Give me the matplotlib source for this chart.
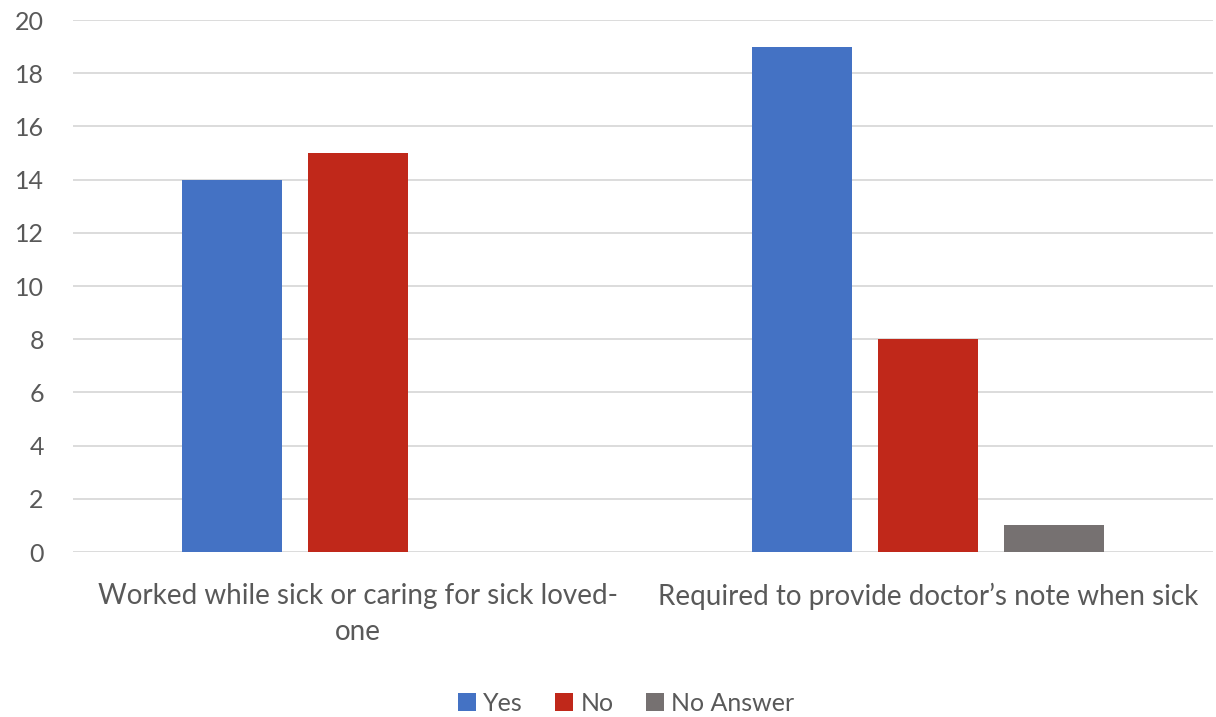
import matplotlib.pyplot as plt
import numpy as np

categories = ["Worked while sick or caring for sick loved-\none",
              "Required to provide doctor\u2019s note when sick"]
yes = [14, 19]
no = [15, 8]
no_answer = [0, 1]

series = [("Yes", yes, "#4472C4"), ("No", no, "#C0281A"), ("No Answer", no_answer, "#767171")]

plt.rcParams['font.family'] = ['Lato', 'DejaVu Sans']

fig = plt.figure(figsize=(12.16, 7.17), dpi=100)
ax = fig.add_axes([0.060, 0.230, 0.9375, 0.742])

x = np.arange(len(categories))
width = 0.175
step = 0.221
for i, (name, vals, color) in enumerate(series):
    ax.bar(x + (i - 1) * step, vals, width, color=color, label=name, zorder=3)

ax.set_xlim(-0.5, 1.5)
ax.set_ylim(0, 20)
ax.set_yticks(range(0, 21, 2))
ax.yaxis.grid(True, color="#D9D9D9", linewidth=1.3, zorder=0)
for s in ax.spines.values():
    s.set_visible(False)
ax.tick_params(axis="both", length=0, colors="#595959")
ax.tick_params(axis="y", labelsize=18, pad=21)
ax.tick_params(axis="x", pad=22)
ax.set_xticks(x)
ax.set_xticklabels(categories, fontsize=20, color="#595959", linespacing=1.5)

fig.legend(loc="lower center", ncol=3, frameon=False, fontsize=18,
           labelcolor="#595959", handlelength=0.7, handleheight=0.7,
           handletextpad=0.3, columnspacing=1.3, bbox_to_anchor=(0.515, -0.028))

fig.savefig("out.png", dpi=100)
